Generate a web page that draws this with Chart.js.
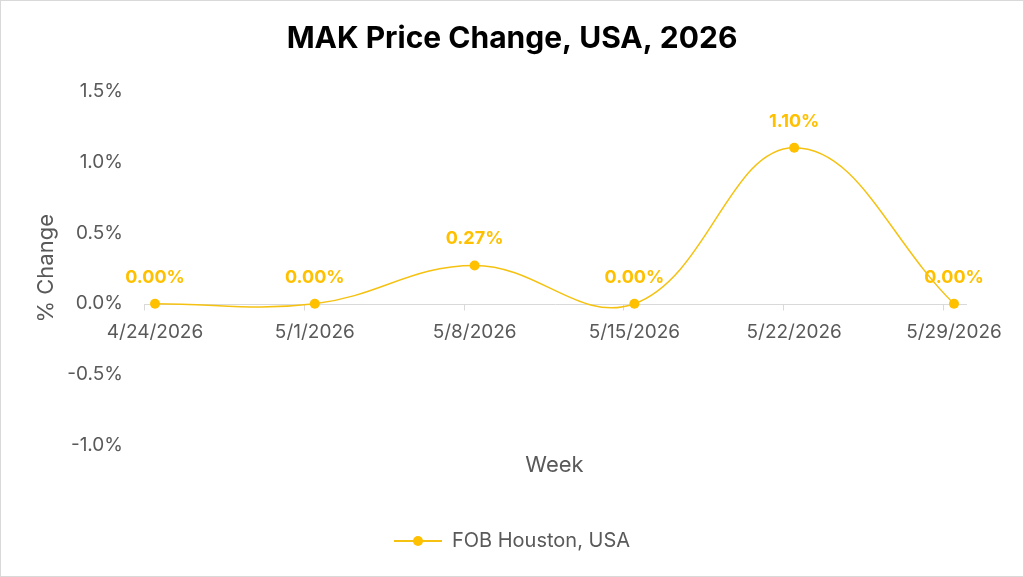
<!DOCTYPE html>
<html>
<head>
<meta charset="utf-8">
<script src="https://cdn.jsdelivr.net/npm/chart.js@4.4.1/dist/chart.umd.min.js"></script>
<style>
  html, body { margin: 0; padding: 0; background: #ffffff; }
  #wrap { width: 1024px; height: 577px; position: relative; }
</style>
</head>
<body>
<div id="wrap"><canvas id="c" width="1024" height="577"></canvas></div>
<script>
const chartTitle = 'MAK Price Change, USA, 2026';
const weeks = ['4/24/2026', '5/1/2026', '5/8/2026', '5/15/2026', '5/22/2026', '5/29/2026'];
const seriesName = 'FOB Houston, USA';
const fobHouston = [0.00, 0.00, 0.27, 0.00, 1.10, 0.00];
const yTicks = [-1.0, -0.5, 0.0, 0.5, 1.0, 1.5];
const xTitle = 'Week';
const yTitle = '% Change';

const GOLD = '#FFC000';
const LINE = '#F5C211';
const GRAY = '#595959';
const FONT = 'Inter, "Liberation Sans", sans-serif';

// legend marker: line with dot
const legendMarker = (() => {
  const cv = document.createElement('canvas');
  cv.width = 48; cv.height = 12;
  const g = cv.getContext('2d');
  g.strokeStyle = LINE; g.lineWidth = 2;
  g.beginPath(); g.moveTo(0, 6); g.lineTo(48, 6); g.stroke();
  g.fillStyle = GOLD;
  g.beginPath(); g.arc(24, 6, 5, 0, Math.PI * 2); g.fill();
  return cv;
})();

const framePlugin = {
  id: 'frame',
  beforeDraw(chart) {
    const ctx = chart.ctx;
    ctx.save();
    ctx.fillStyle = '#ffffff';
    ctx.fillRect(0, 0, chart.width, chart.height);
    ctx.restore();
  },
  beforeDatasetsDraw(chart) {
    // x axis line at zero with small tick marks
    const ctx = chart.ctx;
    const x = chart.scales.x, y = chart.scales.y;
    const y0 = Math.round(y.getPixelForValue(0)) + 0.5;
    const first = x.getPixelForValue(0), last = x.getPixelForValue(weeks.length - 1);
    ctx.save();
    ctx.strokeStyle = '#D9D9D9';
    ctx.lineWidth = 1;
    ctx.beginPath();
    ctx.moveTo(first - 11, y0);
    ctx.lineTo(last + 13, y0);
    for (let i = 0; i < weeks.length; i++) {
      const px = Math.round(x.getPixelForValue(i) - 11) + 0.5;
      ctx.moveTo(px, y0);
      ctx.lineTo(px, y0 + 6);
    }
    ctx.stroke();
    ctx.restore();
  },
  afterDatasetsDraw(chart) {
    const ctx = chart.ctx;
    const meta = chart.getDatasetMeta(0);
    ctx.save();
    ctx.font = 'bold 18px ' + FONT;
    ctx.fillStyle = GOLD;
    ctx.textAlign = 'center';
    ctx.textBaseline = 'alphabetic';
    meta.data.forEach((pt, i) => {
      const v = chart.data.datasets[0].data[i];
      ctx.fillText(v.toFixed(2) + '%', pt.x, pt.y - 21);
    });
    ctx.restore();
  },
  afterDraw(chart) {
    const ctx = chart.ctx;
    ctx.save();
    ctx.strokeStyle = '#D9D9D9';
    ctx.lineWidth = 1;
    ctx.strokeRect(0.5, 0.5, chart.width - 1, chart.height - 1);
    ctx.restore();
  }
};

new Chart(document.getElementById('c'), {
  type: 'line',
  data: {
    labels: weeks,
    datasets: [{
      label: seriesName,
      data: fobHouston,
      xAxisID: 'x',
      yAxisID: 'y',
      borderColor: LINE,
      backgroundColor: GOLD,
      borderWidth: 1.5,
      pointRadius: 5,
      pointHoverRadius: 5,
      pointBackgroundColor: GOLD,
      pointBorderColor: GOLD,
      pointBorderWidth: 0,
      pointStyle: 'circle',
      tension: 0.4,
      fill: false
    }]
  },
  options: {
    responsive: false,
    animation: false,
    events: [],
    layout: { padding: { left: 0, right: 0, top: 0, bottom: 16 } },
    plugins: {
      title: {
        display: true,
        text: chartTitle,
        color: '#000000',
        font: { family: FONT, size: 30, weight: 'bold', lineHeight: 1.2 },
        padding: { top: 21, bottom: 34 }
      },
      legend: {
        display: true,
        position: 'bottom',
        labels: {
          color: GRAY,
          font: { family: FONT, size: 20 },
          usePointStyle: true,
          pointStyleWidth: 48,
          padding: 10,
          generateLabels(chart) {
            return [{
              text: seriesName,
              pointStyle: legendMarker,
              fillStyle: GOLD,
              strokeStyle: LINE,
              lineWidth: 0,
              fontColor: GRAY,
              datasetIndex: 0,
              hidden: false
            }];
          }
        }
      },
      tooltip: { enabled: false }
    },
    scales: {
      x: {
        type: 'category',
        position: { y: 0 },
        offset: false,
        grid: { display: false, drawTicks: false },
        border: { display: false },
        ticks: {
          color: GRAY,
          font: { family: FONT, size: 19 },
          maxRotation: 0,
          autoSkip: false,
          padding: 17
        }
      },
      xt: {
        type: 'category',
        position: 'bottom',
        labels: weeks,
        grid: { display: false, drawTicks: false },
        border: { display: false },
        ticks: { display: false },
        title: {
          display: true,
          text: xTitle,
          color: GRAY,
          font: { family: FONT, size: 22, lineHeight: 1.2 },
          padding: { top: 7, bottom: 42 }
        }
      },
      y: {
        position: 'left',
        min: yTicks[0],
        max: yTicks[yTicks.length - 1],
        afterBuildTicks(scale) {
          scale.ticks = yTicks.map(v => ({ value: v }));
        },
        afterFit(scale) { scale.width = 155; },
        grid: { display: false, drawTicks: false },
        border: { display: false },
        ticks: {
          color: GRAY,
          font: { family: FONT, size: 19 },
          padding: 32,
          callback: (v) => Number(v).toFixed(1) + '%'
        },
        title: {
          display: true,
          text: yTitle,
          color: GRAY,
          font: { family: FONT, size: 22, lineHeight: 1.2 },
          padding: { top: 33, bottom: 0 }
        }
      },
      yr: {
        position: 'right',
        min: yTicks[0],
        max: yTicks[yTicks.length - 1],
        afterFit(scale) { scale.width = 70; },
        grid: { display: false, drawTicks: false },
        border: { display: false },
        ticks: { display: false }
      }
    }
  },
  plugins: [framePlugin]
});
</script>
</body>
</html>
